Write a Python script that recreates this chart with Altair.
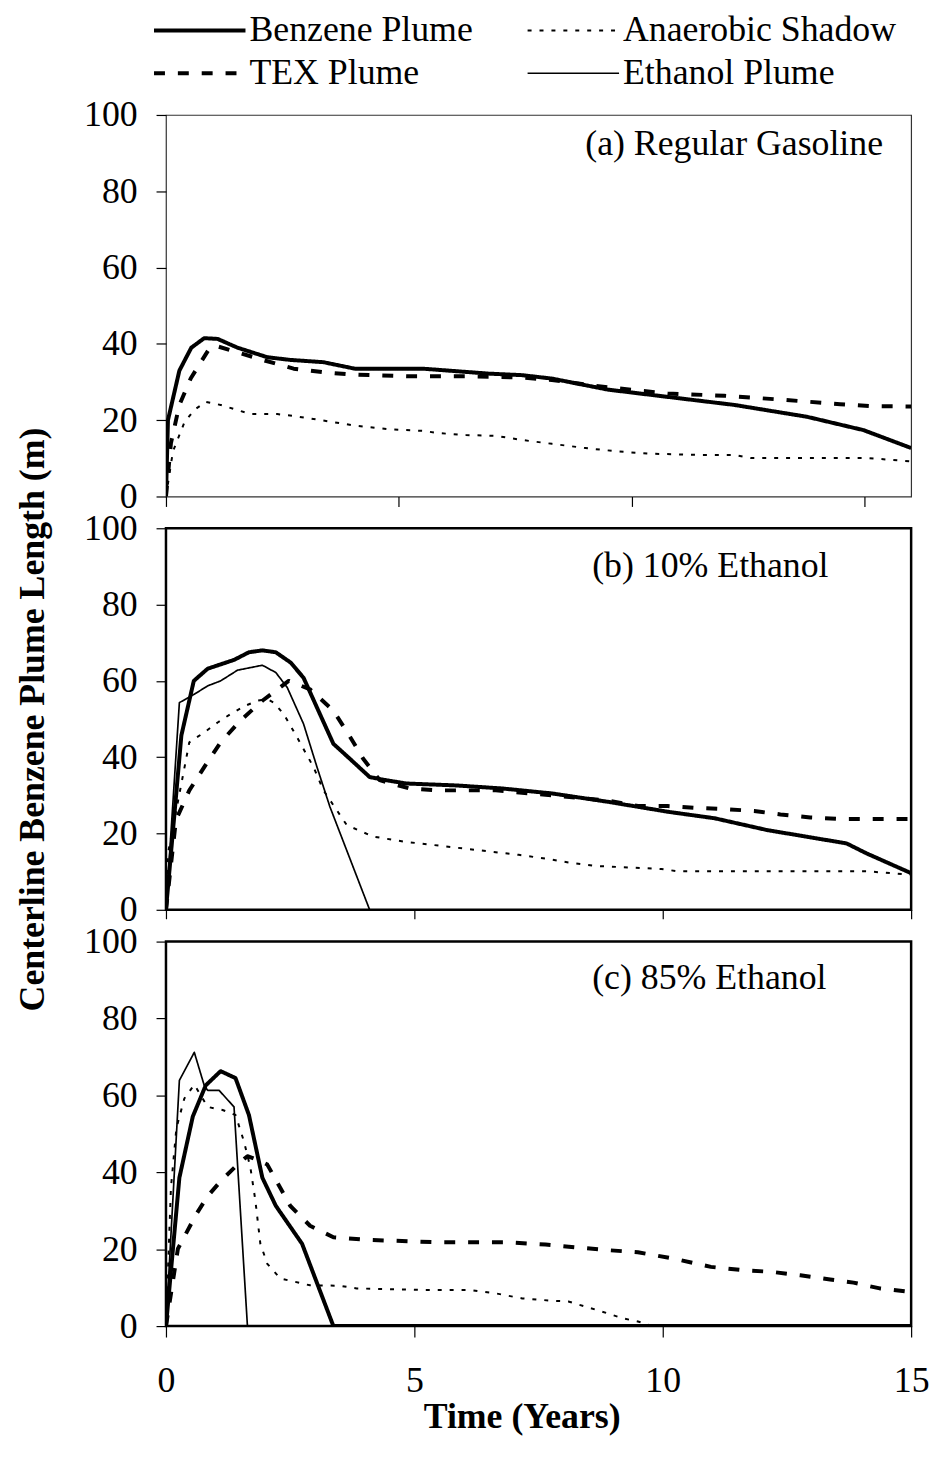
import altair as alt
import pandas as pd

FONT = "Liberation Serif"

# legend entries are laid out column by column
SERIES = ["Benzene Plume", "TEX Plume", "Anaerobic Shadow", "Ethanol Plume"]
PANEL_LABELS = ["(a) Regular Gasoline", "(b) 10% Ethanol", "(c) 85% Ethanol"]
X_TICKS = [0, 5, 10, 15]
A_X_TICKS = [0, 4.6875, 9.375, 14.0625]
Y_TICKS = [0, 20, 40, 60, 80, 100]

# ---------------- Panel (a) Regular Gasoline ----------------
A_BENZ_T = [0, 0.04, 0.27, 0.51, 0.77, 1.04, 1.44, 2.04, 2.5, 3.17, 3.8, 5.17, 6.5, 7.17, 7.77, 8.9, 10.1, 11.44, 12.9, 14.04, 15]
A_BENZ_V = [0, 20, 33, 39, 41.5, 41.3, 39, 36.5, 35.8, 35.2, 33.5, 33.5, 32.2, 31.8, 30.9, 28, 26.1, 24, 20.9, 17.4, 12.7]
A_TEX_T = [0, 0.1, 0.27, 0.5, 0.87, 1.0, 1.97, 2.57, 3.14, 3.7, 4.9, 6.04, 7.17, 7.77, 8.9, 10.1, 11.24, 12.37, 13.57, 14.17, 15]
A_TEX_V = [0, 14, 24, 31, 38.7, 39.5, 35.7, 33.5, 32.6, 32, 31.5, 31.5, 31.2, 30.5, 28.6, 27, 26.4, 25.4, 24.2, 23.7, 23.6]
A_ANA_T = [0, 0.14, 0.37, 0.57, 0.8, 1.1, 1.7, 2.24, 2.57, 3.17, 3.84, 4.5, 5.17, 5.5, 6.04, 6.64, 7.17, 7.77, 8.44, 9.1, 9.77, 10.77, 11.44, 11.77, 12.77, 14.1, 14.4, 15]
A_ANA_V = [0, 11.8, 19.4, 22.7, 24.8, 24, 21.6, 21.6, 21.1, 19.9, 18.5, 17.6, 17.2, 16.6, 16.1, 15.9, 14.8, 13.8, 12.7, 11.8, 11.2, 10.9, 10.9, 10.1, 10.1, 10.1, 9.8, 9.2]

# ---------------- Panel (b) 10% Ethanol ----------------
B_BENZ_T = [0, 0.31, 0.56, 0.84, 1.37, 1.67, 1.94, 2.21, 2.51, 2.77, 3.04, 3.37, 3.7, 4.1, 4.37, 4.84, 5.84, 6.77, 7.77, 8.9, 10.1, 11.04, 12.1, 13.7, 14.1, 15]
B_BENZ_V = [0, 45.7, 60, 63.2, 65.5, 67.5, 68, 67.5, 64.8, 60.8, 53, 43.5, 39.6, 34.8, 34.1, 33.1, 32.6, 31.8, 30.5, 28.3, 25.7, 24, 20.9, 17.4, 14.8, 9.6]
B_TEX_T = [0, 0.2, 0.47, 0.77, 1.1, 1.5, 1.94, 2.47, 2.9, 3.37, 3.67, 3.97, 4.3, 4.9, 5.47, 6.04, 6.64, 7.77, 8.9, 9.5, 10.1, 10.7, 11.24, 11.84, 12.37, 12.97, 13.57, 14.17, 15]
B_TEX_V = [0, 23.5, 31.3, 37.4, 43.9, 49.6, 54.8, 60, 57.8, 52.2, 46.1, 39.6, 34, 31.8, 31.3, 31.3, 31.3, 30, 28.6, 27.2, 27.2, 26.7, 26.4, 25.9, 25, 24.2, 23.8, 23.8, 23.8]
B_ANA_T = [0, 0.04, 0.47, 0.77, 1.04, 1.3, 1.6, 1.84, 2.04, 2.17, 2.37, 2.64, 2.97, 3.17, 3.64, 4.17, 4.77, 5.37, 5.97, 6.5, 7.1, 7.7, 8.1, 8.64, 9.97, 10.3, 14.1, 15]
B_ANA_V = [0, 14.8, 43.9, 46.5, 49.1, 51.3, 53.5, 54.8, 55.2, 54.3, 51.3, 45.2, 37.4, 31.3, 22.2, 19.2, 17.9, 17, 16.1, 15.3, 14.4, 13.3, 12.4, 11.5, 10.7, 10.1, 10.1, 9.2]
B_ETH_T = [0, 0.27, 0.57, 0.84, 1.1, 1.44, 1.94, 2.21, 2.44, 2.77, 3.04, 3.3, 4.1]
B_ETH_V = [0, 54.3, 56.5, 58.7, 60, 62.8, 64.1, 62.2, 58.3, 48.7, 37.4, 27, 0]

# ---------------- Panel (c) 85% Ethanol ----------------
C_BENZ_T = [0, 0.27, 0.54, 0.8, 1.1, 1.4, 1.67, 1.94, 2.21, 2.74, 3.37, 15]
C_BENZ_V = [0, 38.6, 54.5, 62.6, 66.3, 64.5, 54.9, 38.6, 31.3, 21.4, 0, 0]
C_TEX_T = [0, 0.24, 0.61, 0.84, 1.1, 1.44, 1.64, 1.84, 2.04, 2.3, 2.5, 2.9, 3.37, 4.1, 5.5, 6.84, 7.64, 8.24, 8.84, 9.5, 10.24, 10.97, 11.64, 12.2, 12.77, 13.37, 13.84, 14.37, 15]
C_TEX_V = [0, 20.1, 29.1, 33.8, 37.7, 42, 44.2, 43.3, 42, 36, 31.3, 26.1, 23.1, 22.4, 21.8, 21.8, 21.2, 20.5, 19.8, 19.2, 17.5, 15.4, 14.5, 14.1, 13.2, 12.1, 11.3, 9.8, 8.9]
C_ANA_T = [0, 0.1, 0.21, 0.37, 0.57, 0.84, 1.14, 1.4, 1.57, 1.7, 1.8, 1.9, 2.04, 2.3, 2.9, 3.5, 3.84, 5.17, 6.1, 6.64, 7.17, 7.77, 8.1, 8.77, 9.2, 9.5, 9.8]
C_ANA_V = [0, 36, 51.5, 59.2, 62.8, 57, 56.2, 54.9, 48, 41.2, 32.6, 21.4, 16.2, 12.4, 10.6, 10.5, 9.8, 9.4, 9.4, 8.5, 7.2, 6.6, 6.4, 3.8, 2, 1.2, 0]
C_ETH_T = [0, 0.27, 0.57, 0.77, 0.84, 1.07, 1.37, 1.64]
C_ETH_V = [0, 63.9, 71.2, 62.6, 61.3, 61.3, 57, 0]


def frame(t, v, name):
    return pd.DataFrame({"t": t, "v": v, "series": name, "order": list(range(len(t)))})


BENZ, TEX, ANA, ETH = SERIES

df_a = pd.concat([
    frame(A_ANA_T, A_ANA_V, ANA),
    frame(A_TEX_T, A_TEX_V, TEX),
    frame(A_BENZ_T, A_BENZ_V, BENZ),
])
df_b = pd.concat([
    frame(B_ANA_T, B_ANA_V, ANA),
    frame(B_TEX_T, B_TEX_V, TEX),
    frame(B_ETH_T, B_ETH_V, ETH),
    frame(B_BENZ_T, B_BENZ_V, BENZ),
])
df_c = pd.concat([
    frame(C_ANA_T, C_ANA_V, ANA),
    frame(C_TEX_T, C_TEX_V, TEX),
    frame(C_ETH_T, C_ETH_V, ETH),
    frame(C_BENZ_T, C_BENZ_V, BENZ),
])

legend = alt.Legend(
    orient="none", legendX=16, legendY=-103, columns=2, title=None,
    symbolType="M-5,0H5", symbolSize=339, symbolStrokeColor="black",
    symbolFillColor="transparent",
    labelFont=FONT, labelFontSize=36, labelColor="black", labelLimit=500,
    labelOffset=32, columnPadding=50, rowPadding=7, padding=0,
)
dash_scale = alt.Scale(domain=SERIES, range=[[1, 0], [11, 13], [4, 8], [1, 0]])
width_scale = alt.Scale(type="ordinal", domain=SERIES, range=[4, 4, 2, 1.7])

y_plain = alt.Axis(values=Y_TICKS, title=None, tickSize=10, labelPadding=19)
y_titled = alt.Axis(values=Y_TICKS, title="Centerline Benzene Plume Length (m)",
                    tickSize=10, labelPadding=19, titleFont=FONT, titleFontSize=36,
                    titleFontWeight="bold", titlePadding=32, titleColor="black")
x_a = alt.Axis(values=A_X_TICKS, labels=False, title=None, tickSize=10)
x_b = alt.Axis(values=X_TICKS, labels=False, title=None, tickSize=9)
x_c = alt.Axis(values=X_TICKS, title="Time (Years)", tickSize=11, labelPadding=27,
               labelFlush=False, titleFont=FONT, titleFontSize=36, titleFontWeight="bold",
               titlePadding=1, titleColor="black", titleX=358)


def panel(df, label, x_axis, y_axis, height, lab_x, lab_y, stroke_w, stroke_c):
    lines = alt.Chart(df).mark_line(color="black", strokeJoin="round", clip=True).encode(
        x=alt.X("t:Q", scale=alt.Scale(domain=[0, 15], nice=False, zero=False), axis=x_axis),
        y=alt.Y("v:Q", scale=alt.Scale(domain=[0, 100], nice=False), axis=y_axis),
        strokeDash=alt.StrokeDash("series:N", scale=dash_scale, legend=legend),
        strokeWidth=alt.StrokeWidth("series:N", scale=width_scale, legend=legend),
        detail="series:N",
        order="order:Q",
    )
    text = alt.Chart(pd.DataFrame({"label": [label]})).mark_text(
        font=FONT, fontSize=36, align="left", baseline="middle", color="black"
    ).encode(text="label:N", x=alt.value(lab_x), y=alt.value(lab_y))
    return alt.layer(lines, text).properties(
        width=750, height=height,
        view=alt.ViewBackground(stroke=stroke_c, strokeWidth=stroke_w),
    )


pa = panel(df_a, PANEL_LABELS[0], x_a, y_plain, 384, 422, 29, 1.2, "#333333")
pb = panel(df_b, PANEL_LABELS[1], x_b, y_titled, 384, 429, 38, 2.5, "black")
pc = panel(df_c, PANEL_LABELS[2], x_c, y_plain, 387, 429, 37, 2.5, "black")

chart = alt.vconcat(pa, pb, pc, spacing=32, bounds="flush").resolve_scale(
    strokeDash="shared", strokeWidth="shared"
).properties(
    padding={"left": 5, "top": 0, "right": 0, "bottom": 0},
    background="white",
).configure_axis(
    labelFont=FONT, labelFontSize=36, labelColor="black", domain=False, grid=False,
    tickColor="black", tickWidth=1.2,
)

chart.save("out.html", embed_options={"renderer": "svg", "actions": False})
